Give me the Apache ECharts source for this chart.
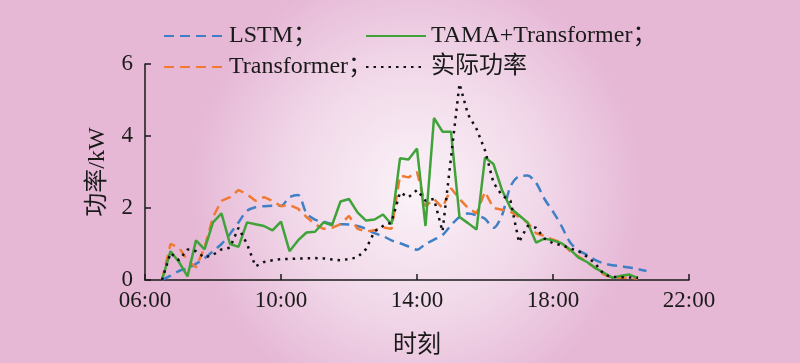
<!DOCTYPE html>
<html>
<head>
<meta charset="utf-8">
<script src="https://cdn.jsdelivr.net/npm/echarts@6/dist/echarts.min.js"></script>
<style>
html,body{margin:0;padding:0;}
#c{width:800px;height:363px;}
</style>
</head>
<body>
<div id="c"></div>
<script>
// time of day in hours (15-minute samples)
var times = [6.5,6.75,7,7.25,7.5,7.75,8,8.25,8.5,8.75,9,9.25,9.5,9.75,10,10.25,10.5,10.75,11,11.25,11.5,11.75,12,12.25,12.5,12.75,13,13.25,13.5,13.75,14,14.25,14.5,14.75,15,15.25,15.5,15.75,16,16.25,16.5,16.75,17,17.25,17.5,17.75,18,18.25,18.5,18.75,19,19.25,19.5,19.75,20,20.25,20.5,20.75];
var xTicks = [6, 10, 14, 18, 22];
var yTicks = [0, 2, 4, 6];

var lstm = [0,0.12,0.25,0.33,0.45,0.6,0.8,1.0,1.28,1.6,1.92,2.02,2.05,2.06,2.06,2.3,2.36,1.85,1.68,1.62,1.56,1.55,1.54,1.5,1.42,1.3,1.22,1.1,1.02,0.93,0.84,1.0,1.12,1.25,1.52,1.75,1.85,1.8,1.7,1.45,1.8,2.6,2.88,2.9,2.7,2.25,1.9,1.5,1.05,0.82,0.7,0.55,0.46,0.41,0.38,0.35,0.3,0.25];
var transformer = [0,1.0,0.9,0.55,0.35,0.9,1.75,2.2,2.3,2.5,2.38,2.2,2.3,2.2,2.05,2.08,1.98,1.75,1.55,1.42,1.45,1.55,1.78,1.42,1.35,1.38,1.46,1.42,2.9,2.85,3.0,2.05,2.25,2.0,2.55,2.25,2.0,1.85,2.45,2.0,1.95,1.9,1.75,1.6,1.3,1.22,1.12,1.05,0.8,0.65,0.5,0.33,0.15,0.06,0.07,0.06,0.04,null];
var tama = [0,0.8,0.5,0.1,1.1,0.85,1.6,1.85,1.0,0.92,1.6,1.55,1.5,1.38,1.62,0.8,1.1,1.32,1.34,1.6,1.52,2.18,2.25,1.88,1.65,1.68,1.82,1.55,3.38,3.35,3.65,1.5,4.5,4.12,4.12,1.75,1.58,1.4,3.4,3.22,2.5,2.0,1.8,1.6,1.04,1.15,1.1,1.02,0.85,0.62,0.5,0.33,0.2,0.06,0.12,0.15,0.05,null];
var actual = [0,0.75,0.55,0.85,0.8,0.62,0.7,0.85,0.9,1.45,1.0,0.38,0.5,0.55,0.58,0.58,0.6,0.6,0.61,0.6,0.57,0.55,0.58,0.63,0.86,1.35,1.5,1.6,2.43,2.3,2.5,2.2,2.25,1.35,3.4,5.45,4.6,4.2,3.6,2.7,2.35,2.2,1.05,1.5,1.45,1.15,1.02,0.97,0.88,0.8,0.65,0.45,0.15,0.08,0.08,0.07,0.06,null];

var names = ['LSTM', 'Transformer', 'TAMA+Transformer', '实际功率'];

function pairs(vals){ return times.map(function(t,i){ return [t, vals[i]]; }); }

var FONT = "'Liberation Serif','Noto Sans CJK SC',serif";
var chart = echarts.init(document.getElementById('c'), null, {renderer:'canvas'});

function legendAt(name, left, top, suffix){
  return {
    data:[name], left:left, top:top, padding:0, itemWidth:60, itemHeight:14, itemGap:0,
    itemStyle:{opacity:0},
    textStyle:{fontFamily:FONT, fontSize:24, color:'#1a1a1a'},
    formatter:function(n){ return n + suffix; }
  };
}

chart.setOption({
  backgroundColor: {
    type:'radial', x:0.52, y:0.52, r:0.62,
    colorStops:[{offset:0,color:'#fbf3f8'},{offset:0.55,color:'#f1d8e9'},{offset:1,color:'#e6b8d6'}]
  },
  animation:false,
  legend:[
    legendAt('LSTM', 163, 24, '；'),
    legendAt('TAMA+Transformer', 365, 24, '；'),
    legendAt('Transformer', 163, 55, '；'),
    legendAt('实际功率', 365, 55, '')
  ],
  grid:{left:145, right:111, top:64, bottom:82},
  xAxis:{
    type:'value', min:xTicks[0], max:xTicks[xTicks.length-1], interval:4,
    name:'时刻', nameLocation:'middle', nameGap:54,
    nameTextStyle:{fontFamily:FONT, fontSize:24, color:'#1a1a1a'},
    axisLine:{show:true, lineStyle:{color:'#1a1a1a', width:1.5}},
    axisTick:{show:true, inside:true, length:6, lineStyle:{color:'#1a1a1a', width:1.5}},
    axisLabel:{fontFamily:FONT, fontSize:23, color:'#1a1a1a', margin:9,
      formatter:function(v){ return (v<10?'0':'') + v + ':00'; }},
    splitLine:{show:false}
  },
  yAxis:{
    type:'value', min:yTicks[0], max:yTicks[yTicks.length-1], interval:2,
    name:'功率/kW', nameLocation:'middle', nameGap:35, nameRotate:90,
    nameTextStyle:{fontFamily:FONT, fontSize:24, color:'#1a1a1a'},
    axisLine:{show:true, lineStyle:{color:'#1a1a1a', width:1.5}},
    axisTick:{show:true, inside:true, length:6, lineStyle:{color:'#1a1a1a', width:1.5}},
    axisLabel:{fontFamily:FONT, fontSize:23, color:'#1a1a1a', margin:12},
    splitLine:{show:false}
  },
  series:[
    {name:names[0], type:'line', data:pairs(lstm), symbol:'none', smooth:0.3,
     lineStyle:{color:'#3f7fc6', width:2.5, type:[10,6]}, itemStyle:{color:'#3f7fc6'}},
    {name:names[1], type:'line', data:pairs(transformer), symbol:'none',
     lineStyle:{color:'#f07a32', width:2.5, type:[10,6]}, itemStyle:{color:'#f07a32'}},
    {name:names[2], type:'line', data:pairs(tama), symbol:'none',
     lineStyle:{color:'#3fa33a', width:2.5, type:'solid'}, itemStyle:{color:'#3fa33a'}},
    {name:names[3], type:'line', data:pairs(actual), symbol:'none',
     lineStyle:{color:'#111111', width:2.5, type:[2.5,5]}, itemStyle:{color:'#111111'}}
  ]
});
</script>
</body>
</html>
